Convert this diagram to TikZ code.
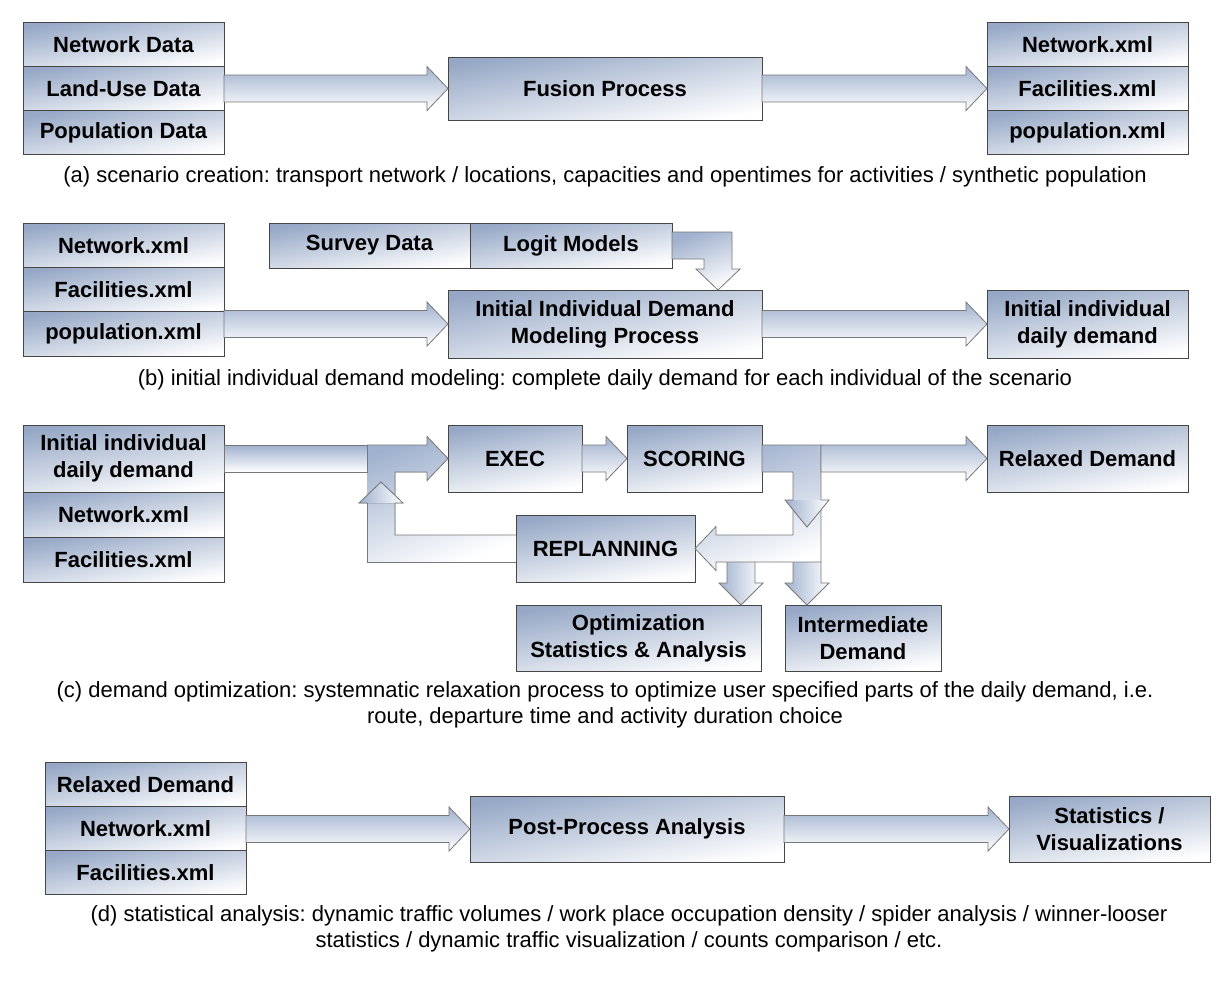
\documentclass[tikz,border=0pt]{standalone}
\usepackage{fontspec}
\setmainfont{Liberation Sans}
\usetikzlibrary{positioning,calc}
\frenchspacing
\definecolor{boxblue}{RGB}{150,168,198}
\definecolor{arrowblue}{RGB}{160,177,206}
\definecolor{boxline}{RGB}{70,70,70}
\definecolor{arrowline}{RGB}{120,120,120}
\tikzset{
  blockbox/.style={draw=boxline, line width=1pt, top color=boxblue, bottom color=white,
    shading angle=10, outer sep=0pt, inner sep=0pt, align=center,
    font=\bfseries\fontsize{22}{27}\selectfont},
  rowbox/.style={blockbox, minimum width=201pt, minimum height=44.3pt},
  flowarrow/.style={draw=arrowline, line width=.8pt, top color=arrowblue, bottom color=white},
  elbowarrow/.style={draw=arrowline, line width=.8pt, top color=arrowblue, bottom color=white, shading angle=20},
  downarrow/.style={draw=arrowline, line width=.8pt, left color=arrowblue, right color=white},
  caption/.style={font=\fontsize{22}{26}\selectfont, align=center}
}
% block arrow from #1 to #2, at the height of #2
\newcommand\harrow[2]{%
  \draw[flowarrow] let \p1=(#1), \p2=(#2) in
    (\x1,\y2+13.5pt) -- (\x2-21pt,\y2+13.5pt) -- (\x2-21pt,\y2+22pt) -- (\x2,\y2)
    -- (\x2-21pt,\y2-22pt) -- (\x2-21pt,\y2-13.5pt) -- (\x1,\y2-13.5pt) -- cycle;}
\begin{document}
\begin{tikzpicture}[x=1pt,y=-1pt]
  \useasboundingbox (0,0) rectangle (1232,986);
  % (a) scenario creation
  \node[rowbox] (netdata) at (123.5,44.2) {Network Data};
  \node[rowbox, below=0pt of netdata] (landuse) {Land-Use Data};
  \node[rowbox, below=0pt of landuse] (popdata) {Population Data};
  \node[blockbox, minimum width=314pt, minimum height=63pt] (fusion) at (605,88.5) {Fusion Process};
  \node[rowbox] (netxmla) at (1087.5,44.2) {Network.xml};
  \node[rowbox, below=0pt of netxmla] (facxmla) {Facilities.xml};
  \node[rowbox, below=0pt of facxmla] (popxmla) {population.xml};
  \harrow{landuse.east}{fusion.west}
  \harrow{fusion.east}{facxmla.west}
  \node[caption] (capa) at (605,177) {(a) scenario creation: transport network / locations, capacities and opentimes for activities / synthetic population};
  % (b) initial demand
  \node[rowbox] (netxmlb) at (123.5,245.3) {Network.xml};
  \node[rowbox, below=0pt of netxmlb] (facxmlb) {Facilities.xml};
  \node[rowbox, below=0pt of facxmlb] (popxmlb) {population.xml};
  \node[blockbox, minimum width=201pt, minimum height=45pt] (survey) at (369.5,245.5) {Survey Data};
  \node[blockbox, minimum width=202pt, minimum height=45pt, right=0pt of survey] (logit) {Logit Models};
  \node[blockbox, minimum width=314pt, minimum height=68pt] (idm) at (605,324) {Initial Individual Demand\\Modeling Process};
  \node[blockbox, minimum width=201pt, minimum height=68pt] (initdem) at (1087.5,324) {Initial individual\\daily demand};
  \draw[elbowarrow] ($(logit.east)+(0,-13.5)$) -| ($(idm.north)+(127,-21)$) -- ++(8,0)
    -- ($(idm.north)+(113,0)$) -- ++(-22,-21) -- ++(8,0) |- ($(logit.east)+(0,13.5)$) -- cycle;
  \harrow{popxmlb.east}{idm.west}
  \harrow{idm.east}{initdem.west}
  \node[caption] (capb) at (605,380) {(b) initial individual demand modeling: complete daily demand for each individual of the scenario};
  % (c) demand optimization
  \node[blockbox, minimum width=201pt, minimum height=67pt] (indem) at (123.5,458.5) {Initial individual\\daily demand};
  \node[rowbox, minimum height=45pt, below=0pt of indem] (netxmlc) {Network.xml};
  \node[rowbox, minimum height=45pt, below=0pt of netxmlc] (facxmlc) {Facilities.xml};
  \node[blockbox, minimum width=134pt, minimum height=67pt] (exec) at (515,458.5) {EXEC};
  \node[blockbox, minimum width=135pt, minimum height=67pt] (scoring) at (694.5,458.5) {SCORING};
  \node[blockbox, minimum width=201pt, minimum height=67pt] (relaxed) at (1087.5,458.5) {Relaxed Demand};
  \node[blockbox, minimum width=179pt, minimum height=67pt] (replan) at (605.5,548.5) {REPLANNING};
  \node[blockbox, minimum width=245pt, minimum height=66pt] (optim) at (638.5,638) {Optimization\\Statistics \& Analysis};
  \node[blockbox, minimum width=156pt, minimum height=66pt] (interm) at (863,638) {Intermediate\\Demand};
  \coordinate (scsplit) at (821,458.5);
  % loop back into EXEC
  \fill[elbowarrow, draw=none] ($(replan.west)+(0,-13.5)$) -- (395,535) -- (395,472) -- (427,472) -- (427,480.5)
    -- (exec.west) -- (427,436.5) -- (427,445) -- (367,445) -- (367,562) -- ($(replan.west)+(0,13.5)$) -- cycle;
  \draw[arrowline, line width=.8pt] (367,503) -- (367,562) -- ($(replan.west)+(0,13.5)$);
  \draw[arrowline, line width=.8pt] ($(replan.west)+(0,-13.5)$) -- (395,535) -- (395,472) -- (427,472) -- (427,480.5)
    -- (exec.west) -- (427,436.5) -- (427,445) -- (367,445);
  \fill[downarrow, draw=none] (359,503) -- (381,482) -- (403,503) -- cycle;
  \draw[arrowline, line width=.8pt] (367,503) -- (359,503) -- (381,482) -- (403,503) -- (395,503);
  \draw[flowarrow] ($(indem.east)+(0,-13.5)$) rectangle (367,472);
  \harrow{exec.east}{scoring.west}
  % scoring to replanning, relaxed demand and outputs
  \draw[downarrow] ($(optim.north east)+(-34,-43)$) -- ++(0,21) -- ++(-8,0) -- ($(optim.north east)+(-20,0)$)
    -- ++(22,-22) -- ++(-8,0) -- ++(0,-21);
  \draw[downarrow] ($(interm.north west)+(8,-43)$) -- ++(0,21) -- ++(-8,0) -- ($(interm.north west)+(22,0)$)
    -- ++(22,-22) -- ++(-8,0) -- ++(0,-21);
  \draw[elbowarrow] ($(scoring.east)+(0,-13.5)$) -- (821,445) -- (821,562) -- (716,562) -- (716,570.5)
    -- (replan.east) -- (716,526.5) -- (716,535) -- (793,535) -- (793,472) -- ($(scoring.east)+(0,13.5)$) -- cycle;
  \fill[downarrow, draw=none] (785,500) -- (807,527) -- (829,500) -- cycle;
  \draw[arrowline, line width=.8pt] (793,500) -- (785,500) -- (807,527) -- (829,500) -- (821,500);
  \harrow{scsplit}{relaxed.west}
  \node[caption] (capc) at (605,705) {(c) demand optimization: systemnatic relaxation process to optimize user specified parts of the daily demand, i.e.\\route, departure time and activity duration choice};
  % (d) statistical analysis
  \node[rowbox] (relaxin) at (145.5,784.2) {Relaxed Demand};
  \node[rowbox, below=0pt of relaxin] (netxmld) {Network.xml};
  \node[rowbox, below=0pt of netxmld] (facxmld) {Facilities.xml};
  \node[blockbox, minimum width=314pt, minimum height=66pt] (postproc) at (627,829) {Post-Process Analysis};
  \node[blockbox, minimum width=201pt, minimum height=66pt] (stats) at (1109.5,829) {Statistics /\\Visualizations};
  \harrow{netxmld.east}{postproc.west}
  \harrow{postproc.east}{stats.west}
  \node[caption] (capd) at (629,929) {(d) statistical analysis: dynamic traffic volumes / work place occupation density / spider analysis / winner-looser\\statistics / dynamic traffic visualization / counts comparison / etc.};
\end{tikzpicture}
\end{document}
